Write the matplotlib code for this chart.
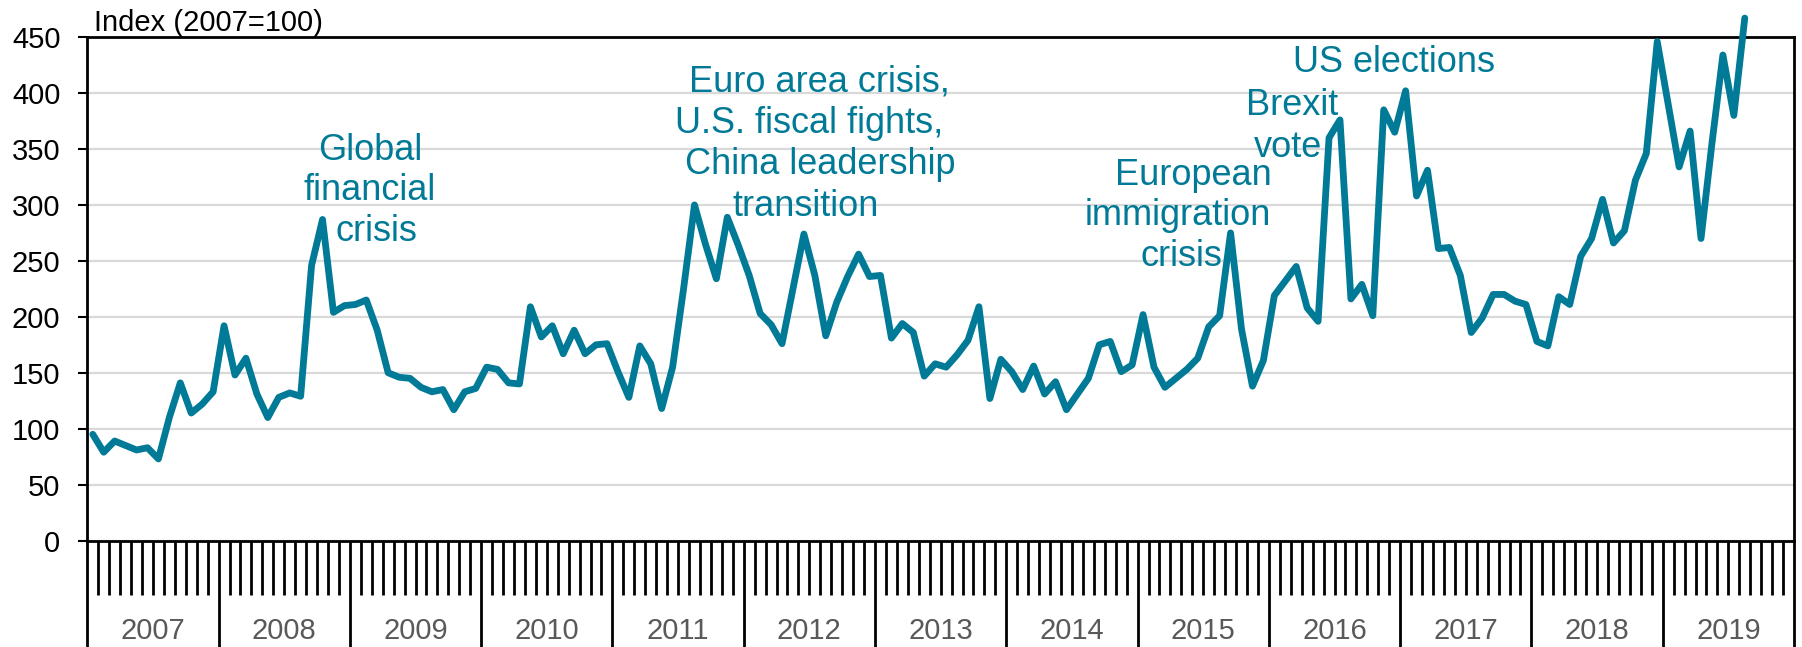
import numpy as np
import matplotlib
matplotlib.use("Agg")
import matplotlib.pyplot as plt
from matplotlib.transforms import blended_transform_factory

# ---------------- data ----------------
years = [str(y) for y in range(2007, 2020)]

index_values = [
    # 2007
    95, 79, 89, 85, 81, 83, 73, 110, 141, 114, 122, 133,
    # 2008
    192, 148, 163, 131, 110, 128, 132, 129, 246, 287, 204, 210,
    # 2009
    211, 215, 188, 150, 146, 145, 137, 133, 135, 117, 133, 136,
    # 2010
    155, 153, 141, 140, 209, 182, 192, 167, 188, 167, 175, 176,
    # 2011
    151, 128, 174, 158, 118, 155, 225, 300, 265, 234, 289, 264,
    # 2012
    237, 203, 193, 176, 225, 274, 237, 183, 213, 236, 256, 236,
    # 2013
    237, 181, 194, 186, 147, 158, 155, 166, 179, 209, 127, 162,
    # 2014
    151, 135, 156, 131, 142, 117, 131, 145, 175, 178, 151, 157,
    # 2015
    202, 155, 137, 145, 153, 163, 191, 201, 275, 189, 138, 161,
    # 2016
    219, 232, 245, 208, 196, 360, 376, 216, 229, 201, 385, 365,
    # 2017
    402, 308, 331, 261, 262, 237, 186, 199, 220, 220, 214, 211,
    # 2018
    178, 174, 218, 211, 254, 270, 305, 266, 277, 322, 346, 446,
    # 2019
    390, 334, 366, 270, 355, 434, 380, 467,
]

ytick_values = [0, 50, 100, 150, 200, 250, 300, 350, 400, 450]
y_label = "Index (2007=100)"

# annotation lines: (text, centre x px, baseline y px) in figure pixels
annotation_lines = [
    ("Global", 370, 160),
    ("financial", 370, 200),
    ("crisis", 376, 241),
    ("Euro area crisis,", 819, 92),
    ("U.S. fiscal fights,", 809, 133),
    ("China leadership", 820, 174),
    ("transition", 806, 216),
    ("European", 1193, 185),
    ("immigration", 1178, 225),
    ("crisis", 1181, 266),
    ("Brexit", 1292, 115),
    ("vote", 1288, 157),
    ("US elections", 1394, 72),
]

# ---------------- style ----------------
plt.rcParams['font.family'] = ['Liberation Sans', 'DejaVu Sans']
TEAL = '#007A96'
W, H = 1802, 647

fig = plt.figure(figsize=(W / 100, H / 100), dpi=100)
ax = fig.add_axes([87.3 / W, 1 - 540.6 / H, (1794 - 87.3) / W, (540.6 - 37.1) / H])

months_per_year = 12
n_cats = months_per_year * len(years)
x = np.arange(len(index_values)) + 0.5

ax.plot(x, index_values, color=TEAL, lw=4.9, clip_on=False,
        solid_joinstyle='round', solid_capstyle='round', zorder=3)

ax.set_xlim(0, n_cats)
ax.set_ylim(ytick_values[0], ytick_values[-1])

# y axis
ax.set_yticks(ytick_values)
ax.set_yticklabels([str(v) for v in ytick_values], fontsize=21)
ax.tick_params(axis='y', direction='out', length=6.3, width=1.5, pad=13,
               colors='black')
ax.yaxis.grid(True, color='#D9D9D9', lw=1.6)
ax.set_axisbelow(True)

# x axis: month ticks and year separators
ax.set_xticks(np.arange(0, n_cats + 1, months_per_year))
ax.set_xticks(np.arange(0, n_cats + 1), minor=True)
ax.tick_params(axis='x', which='major', direction='out', length=78, width=2.0,
               labelbottom=False)
ax.tick_params(axis='x', which='minor', direction='out', length=38.6, width=2.0,
               labelbottom=False)

trans = blended_transform_factory(ax.transData, ax.transAxes)
for k, yr in enumerate(years):
    ax.text(months_per_year * k + months_per_year / 2, -(631 - 540.6) / (540.6 - 37.1),
            yr, transform=trans, ha='center', va='center', fontsize=21,
            color='#595959')

for sp in ax.spines.values():
    sp.set_color('black')
    sp.set_linewidth(2.0)

fig.text(93.8 / W, 1 - 31 / H, y_label, ha='left', va='baseline', fontsize=21)

for txt, cx, by in annotation_lines:
    fig.text(cx / W, 1 - by / H, txt, ha='center', va='baseline',
             fontsize=26, color=TEAL)

fig.savefig('out.png', dpi=100)
